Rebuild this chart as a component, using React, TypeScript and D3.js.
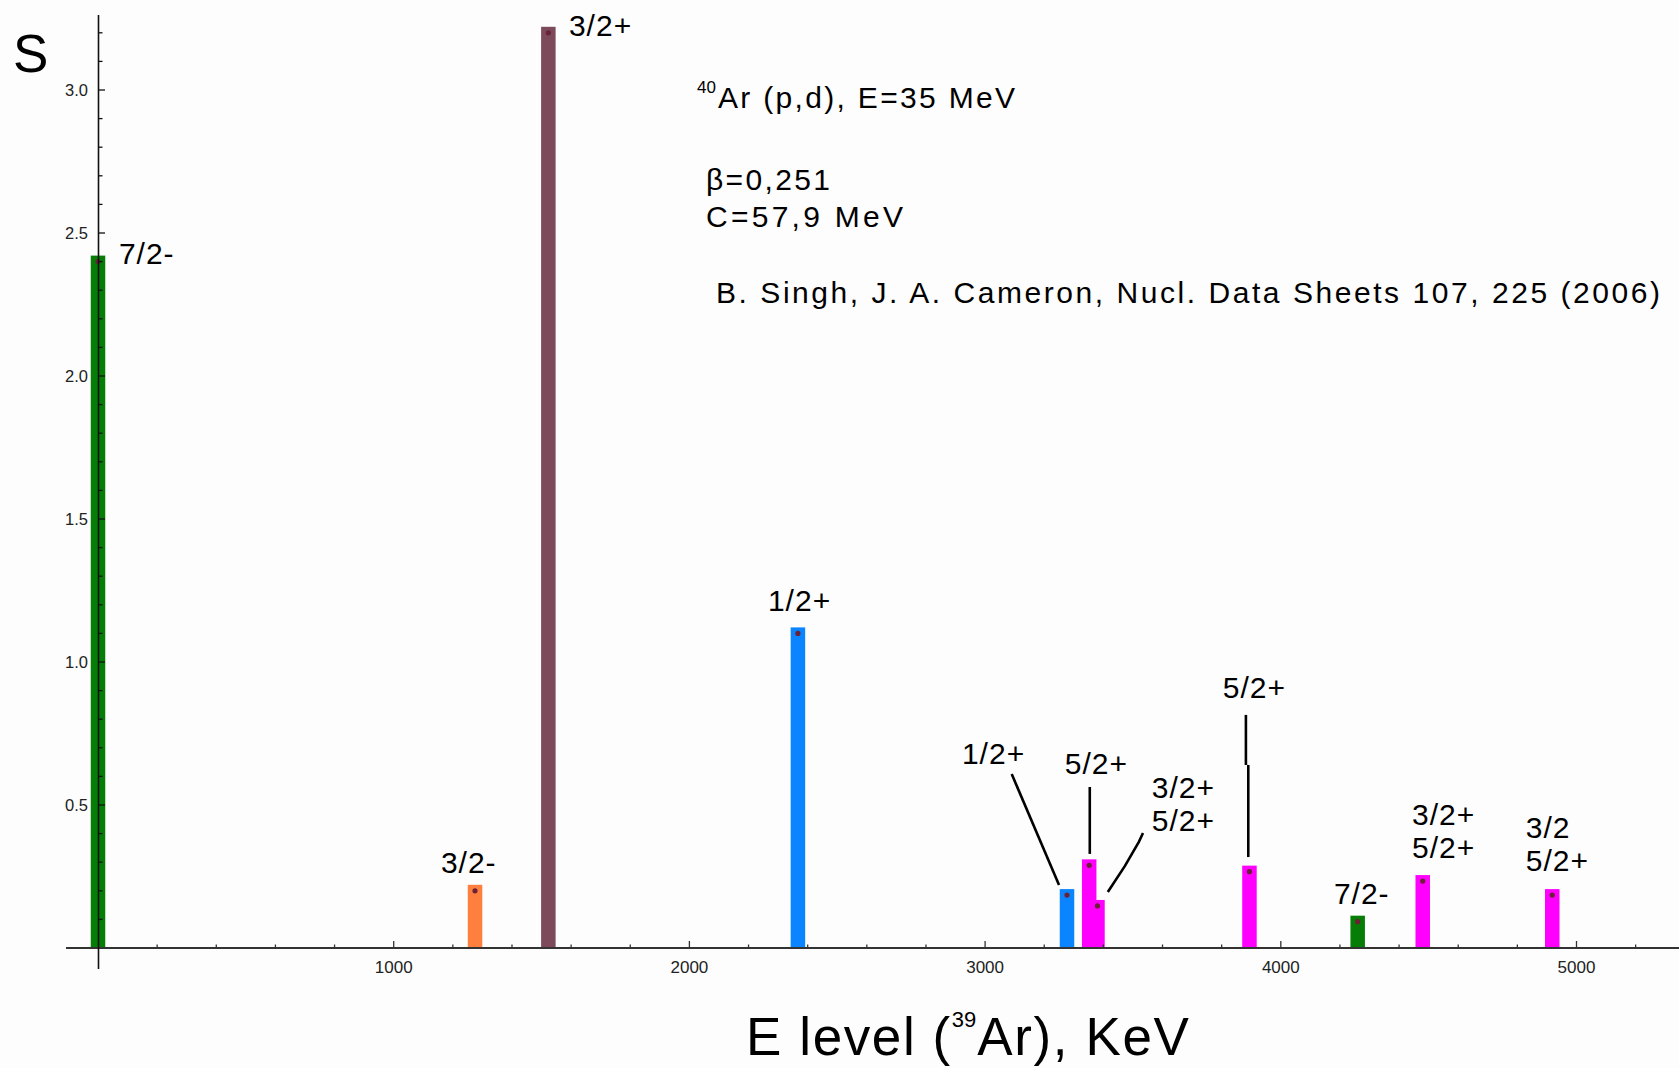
import React from "react";
import * as d3 from "d3";

// ---- data ----
const levelsKeV = [0, 1275, 1523, 2367, 3277, 3352, 3380, 3894, 4260, 4480, 4918];
const strengthS = [2.40, 0.20, 3.20, 1.10, 0.185, 0.289, 0.147, 0.267, 0.092, 0.234, 0.185];
const barColors = ["#067d06", "#ff7f3f", "#7d4a5b", "#0a84ff", "#0a84ff", "#ff00ff", "#ff00ff", "#ff00ff", "#067d06", "#ff00ff", "#ff00ff"];
// draw order (short overlapped bar first)
const drawOrder = [0, 1, 2, 3, 4, 6, 5, 7, 8, 9, 10];

const xMajorTicks = [1000, 2000, 3000, 4000, 5000];
const yMajorTicks = [0.5, 1.0, 1.5, 2.0, 2.5, 3.0];
const yTickLabels = ["0.5", "1.0", "1.5", "2.0", "2.5", "3.0"];

// annotation labels: anchor in data units (E keV, S) ; lines of text
const labelE = [74, 1596, 1163, 2269, 2925, 3273, 3567, 3807, 4183, 4447, 4832];
const labelS = [2.395, 3.192, 0.266, 1.182, 0.647, 0.612, 0.528, 0.878, 0.157, 0.434, 0.388];
const labelText = [
  ["7/2-"], ["3/2+"], ["3/2-"], ["1/2+"], ["1/2+"], ["5/2+"],
  ["3/2+", "5/2+"], ["5/2+"], ["7/2-"], ["3/2+", "5/2+"], ["3/2", "5/2+"],
];

// leader lines in data units: [E, S] points
const leaderLines = [
  [[3090, 0.608], [3250, 0.220]],
  [[3354, 0.563], [3354, 0.329]],
  [[3534, 0.402], [3520, 0.371], [3473, 0.287], [3415, 0.196]],
  [[3882, 0.815], [3882, 0.640]],
  [[3890, 0.640], [3890, 0.318]],
];

const titleIso = "40";
const titleText = "Ar (p,d), E=35 MeV";
const betaText = "β=0,251";
const cText = "C=57,9 MeV";
const refText = "B. Singh, J. A. Cameron, Nucl. Data Sheets 107, 225 (2006)";

const W = 1679;
const H = 1068;
const FONT = "'Liberation Sans', Arial, sans-serif";

export default function App() {
  const x = d3.scaleLinear().domain([0, 5000]).range([98, 1576.5]);
  const y = d3.scaleLinear().domain([0, 3]).range([948, 90]);
  const y0 = y(0);
  const xMinor = d3.range(200, 5400, 200).filter((v) => v % 1000 !== 0);
  const yMinor = d3.range(1, 33).map((v) => v / 10).filter((v) => Math.round(v * 10) % 5 !== 0);
  const line = d3.line<number[]>().x((d) => x(d[0])).y((d) => y(d[1]));
  const barW = 14.5;
  const cap = 6;

  return (
    <div style={{ position: "absolute", left: 0, top: 0 }}>
      <svg width={W} height={H} style={{ display: "block" }} fontFamily={FONT}>
        <rect x={0} y={0} width={W} height={H} fill="#fdfdfd" />

        {/* bars */}
        {drawOrder.map((i) => (
          <rect
            key={"b" + i}
            x={x(levelsKeV[i]) - barW / 2}
            y={y(strengthS[i]) - cap}
            width={barW}
            height={y0 - (y(strengthS[i]) - cap)}
            fill={barColors[i]}
          />
        ))}
        {levelsKeV.map((e, i) => (
          <circle key={"d" + i} cx={x(e)} cy={y(strengthS[i])} r={2.6} fill="#6b2236" />
        ))}

        {/* x axis */}
        <line x1={66} x2={W} y1={y0} y2={y0} stroke="#333" strokeWidth={2} />
        {xMinor.map((v) => (
          <line key={"xm" + v} x1={x(v)} x2={x(v)} y1={y0} y2={y0 - 3.5} stroke="#333" strokeWidth={1.3} />
        ))}
        {xMajorTicks.map((v) => (
          <g key={"xM" + v}>
            <line x1={x(v)} x2={x(v)} y1={y0} y2={y0 - 7} stroke="#333" strokeWidth={1.3} />
            <text x={x(v)} y={973} textAnchor="middle" fontSize={17} fill="#222">
              {v}
            </text>
          </g>
        ))}

        {/* y axis */}
        <line x1={x(0) + 0.5} x2={x(0) + 0.5} y1={15} y2={969} stroke="#111" strokeWidth={1.6} />
        {yMinor.map((v) => (
          <line key={"ym" + v} x1={x(0)} x2={x(0) + 4.5} y1={y(v)} y2={y(v)} stroke="#111" strokeWidth={1.3} />
        ))}
        {yMajorTicks.map((v, i) => (
          <g key={"yM" + v}>
            <line x1={x(0)} x2={x(0) + 7} y1={y(v)} y2={y(v)} stroke="#111" strokeWidth={1.3} />
            <text x={88} y={y(v) + 6} textAnchor="end" fontSize={16.5} fill="#222">
              {yTickLabels[i]}
            </text>
          </g>
        ))}

        {/* axis titles */}
        <text x={13} y={72} fontSize={53} fill="#000">S</text>
        <text x={746} y={1055} fontSize={53} fill="#000" letterSpacing={1.6}>
          <tspan>E level (</tspan>
          <tspan fontSize={22} dy={-28} letterSpacing={0}>39</tspan>
          <tspan dy={28} dx={1}>Ar), KeV</tspan>
        </text>

        {/* annotation text */}
        <text x={697} y={93} fontSize={17} fill="#000">{titleIso}</text>
        <text x={718} y={108} fontSize={30} fill="#000" textLength={297} lengthAdjust="spacing">{titleText}</text>
        <text x={706} y={190} fontSize={30} fill="#000" textLength={124} lengthAdjust="spacing">{betaText}</text>
        <text x={706} y={227} fontSize={30} fill="#000" textLength={197} lengthAdjust="spacing">{cText}</text>
        <text x={716} y={303} fontSize={30} fill="#000" textLength={944} lengthAdjust="spacing">{refText}</text>

        {/* bar labels */}
        {labelText.map((lines, i) => (
          <text key={"l" + i} x={x(labelE[i]) - 1} y={y(labelS[i]) + 1} fontSize={30} fill="#000" letterSpacing={1}>
            {lines.map((t, j) => (
              <tspan key={j} x={x(labelE[i]) - 1} dy={j === 0 ? 0 : 33}>{t}</tspan>
            ))}
          </text>
        ))}

        {/* leader lines */}
        {leaderLines.map((pts, i) => (
          <path key={"ll" + i} d={line(pts) || ""} fill="none" stroke="#000" strokeWidth={2.6} />
        ))}
      </svg>
    </div>
  );
}
